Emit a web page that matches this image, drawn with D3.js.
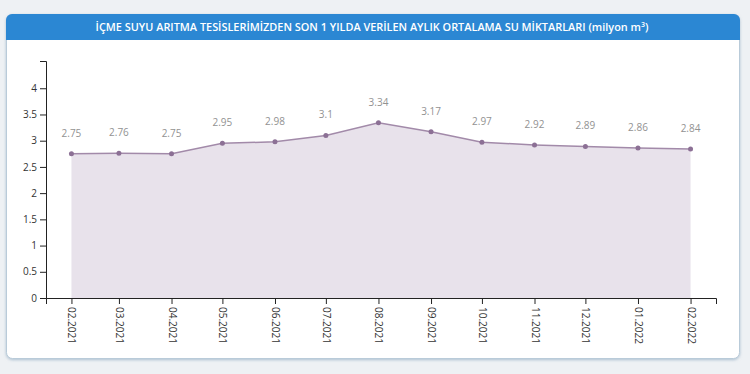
<!DOCTYPE html>
<meta charset="utf-8">
<style>
body { margin: 0; background: #eef1f4; font-family: "Open Sans", sans-serif; }
.axis text { font-family: "Open Sans", sans-serif; font-size: 10px; fill: #333; }
.axis path, .axis line { stroke: #222; }
.lbl { font-family: "Open Sans", sans-serif; font-size: 10px; fill: #929292; text-anchor: middle; }
</style>
<body>
<script src="https://d3js.org/d3.v7.min.js"></script>
<script>

// data
var months = ["2021-02", "2021-03", "2021-04", "2021-05", "2021-06", "2021-07", "2021-08",
              "2021-09", "2021-10", "2021-11", "2021-12", "2022-01", "2022-02"];
var values = [2.75, 2.76, 2.75, 2.95, 2.98, 3.1, 3.34, 3.17, 2.97, 2.92, 2.89, 2.86, 2.84];
var yTicks = [0, 0.5, 1, 1.5, 2, 2.5, 3, 3.5, 4];
var title = "İÇME SUYU ARITMA TESİSLERİMİZDEN SON 1 YILDA VERİLEN AYLIK ORTALAMA SU MİKTARLARI (milyon m³)";

var parse = d3.timeParse("%Y-%m");
var data = months.map(function(m, i) { return {date: parse(m), value: values[i]}; });

var W = 750, H = 374;
var margin = {top: 61, left: 46, right: 34, bottom: 76};
var width = W - margin.left - margin.right,
    height = H - margin.top - margin.bottom;

var svg = d3.select("body").append("svg")
    .attr("width", W)
    .attr("height", H);

// card + header
var defs = svg.append("defs");
var f = defs.append("filter").attr("id", "sh").attr("x", -0.05).attr("y", -0.05).attr("width", 1.1).attr("height", 1.15);
f.append("feDropShadow").attr("dx", 0).attr("dy", 1).attr("stdDeviation", 1.5).attr("flood-color", "#7f9db8").attr("flood-opacity", 0.6);

svg.append("rect")
    .attr("x", 6.5).attr("y", 14.5).attr("width", 733).attr("height", 344)
    .attr("rx", 6)
    .attr("fill", "#fff")
    .attr("stroke", "#b9cbd9")
    .attr("filter", "url(#sh)");

svg.append("path")
    .attr("d", "M6,40 V20 a6,6 0 0 1 6,-6 H734 a6,6 0 0 1 6,6 V40 Z")
    .attr("fill", "#2b87d3");

svg.append("text")
    .attr("x", 372).attr("y", 31)
    .attr("text-anchor", "middle")
    .attr("fill", "#fff")
    .style("font-family", "'Open Sans', sans-serif")
    .style("font-size", "10.9px")
    .style("font-weight", 600)
    .text(title.replace(" m³)", " m"))
  .append("tspan")
    .attr("dy", -4).style("font-size", "7px").text("3")
  .select(function() { return this.parentNode; })
  .append("tspan")
    .attr("dy", 4).text(")");

var g = svg.append("g")
    .attr("transform", "translate(" + margin.left + "," + margin.top + ")");

var first = data[0].date, last = data[data.length - 1].date;
var x = d3.scaleTime()
    .domain([d3.timeDay.offset(first, -15), d3.timeDay.offset(last, 15)])
    .range([0, width]);
var y = d3.scaleLinear().domain([0, 4.52]).range([height, 0]);

var area = d3.area()
    .x(function(d) { return x(d.date); })
    .y0(height)
    .y1(function(d) { return y(d.value); });
var line = d3.line()
    .x(function(d) { return x(d.date); })
    .y(function(d) { return y(d.value); });

g.append("path").datum(data).attr("d", area).attr("fill", "#e8e2eb");
g.append("path").datum(data).attr("d", line)
    .attr("fill", "none").attr("stroke", "#a28aa9").attr("stroke-width", 1.5);

g.selectAll(".dot").data(data).enter().append("circle")
    .attr("class", "dot")
    .attr("cx", function(d) { return x(d.date); })
    .attr("cy", function(d) { return y(d.value); })
    .attr("r", 2.5)
    .attr("fill", "#8c7095");

g.selectAll(".lbl").data(data).enter().append("text")
    .attr("class", "lbl")
    .attr("x", function(d) { return x(d.date); })
    .attr("y", function(d) { return y(d.value) - 17; })
    .text(function(d) { return d.value; });

// axes
g.append("g").attr("class", "axis")
    .call(d3.axisLeft(y).tickValues(yTicks).tickFormat(d3.format("")));

g.append("g").attr("class", "axis")
    .attr("transform", "translate(0," + height + ")")
    .call(d3.axisBottom(x).tickValues(data.map(function(d) { return d.date; }))
        .tickFormat(d3.timeFormat("%m.%Y")))
  .selectAll("text")
    .attr("transform", "rotate(90)")
    .attr("x", 9).attr("y", 0).attr("dy", "0.35em")
    .style("text-anchor", "start");

</script>
</body>
